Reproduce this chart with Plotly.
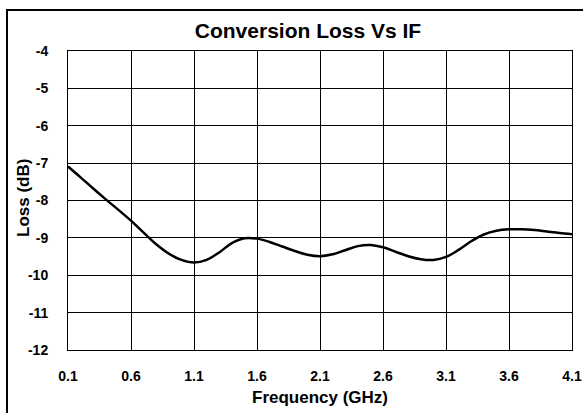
import plotly.graph_objects as go

freq_ghz = [0.1, 0.2, 0.3, 0.4, 0.5, 0.6, 0.7, 0.8, 0.9, 1.0, 1.1, 1.2, 1.3, 1.4,
            1.5, 1.6, 1.7, 1.8, 1.9, 2.0, 2.1, 2.2, 2.3, 2.4, 2.5, 2.6, 2.7, 2.8,
            2.9, 3.0, 3.1, 3.2, 3.3, 3.4, 3.5, 3.6, 3.7, 3.8, 3.9, 4.0, 4.1]
loss_db = [-7.09, -7.38, -7.68, -7.97, -8.25, -8.54, -8.86, -9.17, -9.42, -9.59,
           -9.66, -9.59, -9.39, -9.14, -9.01, -9.02, -9.11, -9.23, -9.35, -9.45,
           -9.49, -9.44, -9.33, -9.22, -9.19, -9.25, -9.37, -9.49, -9.57, -9.59,
           -9.51, -9.32, -9.09, -8.91, -8.81, -8.77, -8.77, -8.79, -8.83, -8.87, -8.90]

x_ticks = [0.1, 0.6, 1.1, 1.6, 2.1, 2.6, 3.1, 3.6, 4.1]
y_ticks = [-12, -11, -10, -9, -8, -7, -6, -5, -4]

FONT = "Liberation Sans, Arial, sans-serif"
PLOT_W, PLOT_H, L, T = 504, 299, 68, 51

fig = go.Figure()
fig.add_trace(go.Scatter(
    x=freq_ghz, y=loss_db, mode="lines",
    line=dict(color="black", width=2.5, shape="spline", smoothing=1.0),
    showlegend=False, hoverinfo="skip",
))

fig.update_layout(
    width=583, height=413,
    margin=dict(l=L, r=583 - L - PLOT_W, t=T, b=413 - T - PLOT_H, autoexpand=False),
    paper_bgcolor="white", plot_bgcolor="white",
    font=dict(family=FONT, color="black"),
    title=dict(
        text="<b>Conversion Loss Vs IF</b>",
        font=dict(family=FONT, size=21, color="black"),
        x=308 / 583, xanchor="center", xref="container",
        y=1 - 31 / 413, yanchor="middle", yref="container",
    ),
    xaxis=dict(
        range=[0.1, 4.1], tickvals=x_ticks, ticktext=[f"<b>{v}</b>" for v in x_ticks],
        showgrid=True, gridcolor="black", gridwidth=1,
        showline=True, linecolor="black", linewidth=1, mirror=True,
        zeroline=False, ticks="", ticklabelstandoff=13, automargin=False,
        tickfont=dict(family=FONT, size=14, color="black"),
    ),
    yaxis=dict(
        range=[-12, -4], tickvals=y_ticks, ticktext=[f"<b>{v}</b>" for v in y_ticks],
        showgrid=True, gridcolor="black", gridwidth=1,
        showline=True, linecolor="black", linewidth=1, mirror=True,
        zeroline=False, ticks="", ticklabelstandoff=16, automargin=False,
        tickfont=dict(family=FONT, size=14, color="black"),
    ),
    annotations=[
        dict(text="<b>Frequency (GHz)</b>", xref="paper", yref="paper",
             x=(320 - L) / PLOT_W, y=(T + PLOT_H - 398) / PLOT_H,
             xanchor="center", yanchor="middle", showarrow=False,
             font=dict(family=FONT, size=17, color="black")),
        dict(text="<b>Loss (dB)</b>", xref="paper", yref="paper",
             x=(23 - L) / PLOT_W, y=(T + PLOT_H - 198) / PLOT_H, textangle=-90,
             xanchor="center", yanchor="middle", showarrow=False,
             font=dict(family=FONT, size=17, color="black")),
    ],
    shapes=[dict(
        type="rect", xref="paper", yref="paper",
        x0=(7 - L) / PLOT_W, x1=3.0,
        y0=-2.0, y1=1 + (T - 10) / PLOT_H,
        line=dict(color="black", width=2), fillcolor="rgba(0,0,0,0)",
        layer="above",
    )],
)

fig.write_html(
    "out.html",
    config={"displayModeBar": False, "staticPlot": True},
    post_script="document.body.style.margin='0';document.body.style.overflow='hidden';",
)
